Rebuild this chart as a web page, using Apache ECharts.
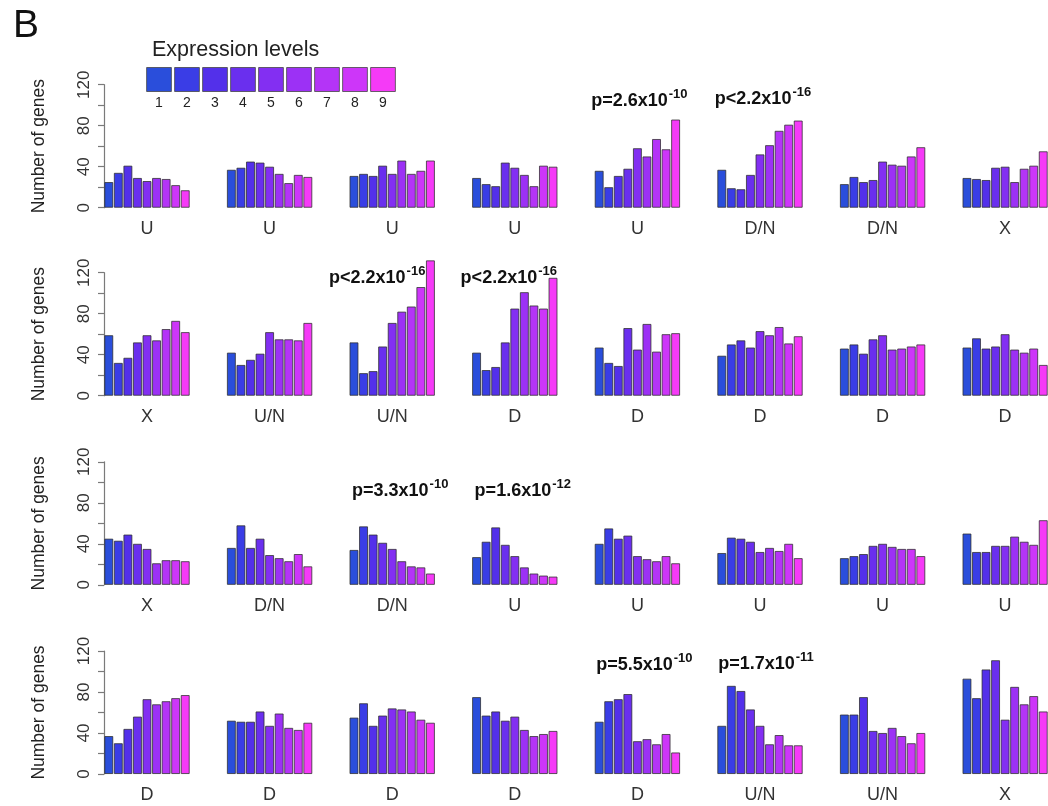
<!DOCTYPE html>
<html>
<head>
<meta charset="utf-8">
<script src="https://cdn.jsdelivr.net/npm/echarts@6/dist/echarts.min.js"></script>
<style>html,body{margin:0;padding:0;background:#fff;}#c{width:1048px;height:806px;}</style>
</head>
<body>
<div id="c"></div>
<script>
// ---------- data ----------
const levels = ['1','2','3','4','5','6','7','8','9'];
const legendKeyHeights = [1,1,1,1,1,1,1,1,1];
const yTicks = [0, 40, 80, 120];

const row1Labels = ['U','U','U','U','U','D/N','D/N','X'];
const row2Labels = ['X','U/N','U/N','D','D','D','D','D'];
const row3Labels = ['X','D/N','D/N','U','U','U','U','U'];
const row4Labels = ['D','D','D','D','D','U/N','U/N','X'];

const row1Values = [
  [25,34,41,29,26,29,28,22,17],
  [37,39,45,44,40,33,24,32,30],
  [31,33,31,41,33,46,33,36,46],
  [29,23,21,44,39,32,21,41,40],
  [36,20,31,38,58,50,67,57,86],
  [37,19,18,32,52,61,75,81,85],
  [23,30,25,27,45,42,41,50,59],
  [29,28,27,39,40,25,38,41,55]
];
const row2Values = [
  [59,32,37,52,59,54,65,73,62],
  [42,30,35,41,62,55,55,54,71],
  [52,22,24,48,71,82,87,106,132],
  [42,25,28,52,85,101,88,85,115],
  [47,32,29,66,45,70,43,60,61],
  [39,50,54,47,63,59,67,51,58],
  [46,50,41,55,59,45,46,48,50],
  [47,56,46,48,60,45,42,46,30]
];
const row3Values = [
  [45,43,49,40,35,21,24,24,23],
  [36,58,36,45,29,26,23,30,18],
  [34,57,49,41,35,23,18,17,11],
  [27,42,56,39,28,17,11,9,8],
  [40,55,45,48,28,25,23,28,21],
  [31,46,45,42,32,36,33,40,26],
  [26,28,30,38,40,37,35,35,28],
  [50,32,32,38,38,47,42,39,63]
];
const row4Values = [
  [37,30,44,56,73,68,71,74,77],
  [52,51,51,61,47,59,45,43,50],
  [55,69,47,57,64,63,61,53,50],
  [75,57,61,52,56,43,37,39,42],
  [51,71,73,78,32,34,29,39,21],
  [47,86,81,63,47,29,38,28,28],
  [58,58,75,42,40,45,37,30,40],
  [93,74,102,111,53,85,68,76,61]
];

// p-value annotations
const pRows  = [0, 0, 1, 1, 2, 2, 3, 3];
const pCols  = [4, 5, 2, 3, 2, 3, 4, 5];
const pBase  = ['p=2.6x10','p<2.2x10','p<2.2x10','p<2.2x10','p=3.3x10','p=1.6x10','p=5.5x10','p=1.7x10'];
const pExp   = ['-10','-16','-16','-16','-10','-12','-10','-11'];

// ---------- styling / layout ----------
const levelColors = ['#2a4edb','#3a3de6','#5330ea','#6a2fee','#832ff2','#9c31f5','#b434f7','#cd36f9','#f53af7'];
const FONT = '"Liberation Sans", Arial, Helvetica, sans-serif';
const rowLabels = [row1Labels, row2Labels, row3Labels, row4Labels];
const rowValues = [row1Values, row2Values, row3Values, row4Values];
const rowZero = [207.7, 395.7, 584.8, 774];
const plotH = 123;           // pixels for 0..120
const colCenter = c => 147 + 122.6 * c;
const panelW = 86;
const pDx = [-3, -2, -20, -11, 3, 3, 2, 1];
const pDy = [125, 127, 136, 136, 112, 112, 127, 128];

const grids = [], xAxes = [], yAxes = [], series = [], titles = [];
let gi = 0;
for (let r = 0; r < 4; r++) {
  for (let c = 0; c < 8; c++) {
    const cx = colCenter(c);
    grids.push({ left: cx - panelW / 2, top: rowZero[r] - plotH, width: panelW, height: plotH });
    xAxes.push({
      gridIndex: gi, type: 'category', data: levels,
      axisLine: { show: false }, axisTick: { show: false }, axisLabel: { show: false },
      splitLine: { show: false },
      name: rowLabels[r][c], nameLocation: 'middle', nameGap: 12,
      nameTextStyle: { fontSize: 18, color: '#333', fontFamily: FONT }
    });
    yAxes.push({
      gridIndex: gi, type: 'value', min: 0, max: 120, interval: 20,
      show: c === 0,
      splitLine: { show: false },
      axisLine: { show: true, lineStyle: { color: '#7a7a7a', width: 1.2 } },
      axisTick: { show: true, length: 6, lineStyle: { color: '#7a7a7a', width: 1.2 } },
      axisLabel: {
        rotate: 90, margin: 11, fontSize: 17, color: '#333', fontFamily: FONT,
        formatter: v => (yTicks.indexOf(v) >= 0 ? String(v) : '')
      },
      name: 'Number of genes', nameLocation: 'middle', nameRotate: 90, nameGap: 56,
      nameTextStyle: { fontSize: 17.5, color: '#222', fontFamily: FONT }
    });
    series.push({
      type: 'bar', xAxisIndex: gi, yAxisIndex: gi, data: rowValues[r][c],
      clip: false, barCategoryGap: '7%', silent: true,
      itemStyle: { color: p => levelColors[p.dataIndex], borderColor: 'rgba(45,45,45,0.85)', borderWidth: 0.9 }
    });
    gi++;
  }
}

// legend key drawn as its own little bar chart
grids.push({ left: 145, top: 67, width: 252, height: 25 });
xAxes.push({
  gridIndex: gi, type: 'category', data: levels,
  axisLine: { show: false }, axisTick: { show: false },
  axisLabel: { margin: 4, fontSize: 14, color: '#222', fontFamily: FONT }
});
yAxes.push({ gridIndex: gi, type: 'value', min: 0, max: 1, show: false });
series.push({
  type: 'bar', xAxisIndex: gi, yAxisIndex: gi, data: legendKeyHeights,
  barCategoryGap: '8%', silent: true,
  itemStyle: { color: p => levelColors[p.dataIndex], borderColor: 'rgba(70,70,70,0.8)', borderWidth: 1 }
});

titles.push({ text: 'B', left: 8, top: 2, textStyle: { fontSize: 39, fontWeight: 'normal', color: '#111', fontFamily: FONT } });
titles.push({ text: 'Expression levels', left: 147, top: 34, textStyle: { fontSize: 21.5, fontWeight: 'normal', color: '#222', fontFamily: FONT } });

for (let k = 0; k < pBase.length; k++) {
  titles.push({
    text: '{m|' + pBase[k] + '}{s|' + pExp[k] + '}',
    left: colCenter(pCols[k]) + pDx[k], top: rowZero[pRows[k]] - pDy[k],
    textAlign: 'center',
    textStyle: {
      fontFamily: FONT,
      rich: {
        m: { fontSize: 18, fontWeight: 'bold', color: '#111', fontFamily: FONT, verticalAlign: 'bottom' },
        s: { fontSize: 13, fontWeight: 'bold', color: '#111', fontFamily: FONT, verticalAlign: 'bottom', padding: [0, 0, 9, 1] }
      }
    }
  });
}

const chart = echarts.init(document.getElementById('c'), null, { renderer: 'canvas' });
chart.setOption({
  animation: false,
  backgroundColor: '#fff',
  title: titles,
  grid: grids,
  xAxis: xAxes,
  yAxis: yAxes,
  series: series
});
</script>
</body>
</html>
